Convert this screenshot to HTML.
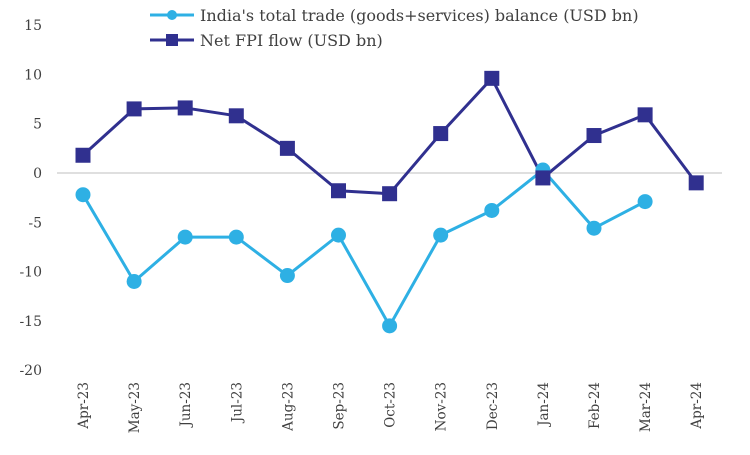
<!DOCTYPE html>
<html><head><meta charset="utf-8">
<style>
body{margin:0;background:#fff;}
svg{font-family:"DejaVu Serif","Liberation Serif",serif;}
</style></head>
<body>
<svg id="chart" width="750" height="450">
<g id="yaxis"></g>
<g id="xaxis"></g>
<g id="series"></g>
<g>
  <g>
    <line x1="150" y1="15" x2="194" y2="15" stroke="#2EB0E4" stroke-width="3"/>
    <circle cx="172" cy="15" r="5" fill="#2EB0E4"/>
    <text x="200" y="21" font-size="16" fill="#404040">India's total trade (goods+services) balance (USD bn)</text>
  </g>
  <g>
    <line x1="150" y1="40" x2="194" y2="40" stroke="#30308F" stroke-width="3"/>
    <rect x="166" y="34" width="12" height="12" fill="#30308F"/>
    <text x="200" y="46" font-size="16" fill="#404040">Net FPI flow (USD bn)</text>
  </g>
</g>
</svg>
<script>
const categories=["Apr-23","May-23","Jun-23","Jul-23","Aug-23","Sep-23","Oct-23","Nov-23","Dec-23","Jan-24","Feb-24","Mar-24","Apr-24"];
const tradeBalance=[-2.2,-11,-6.5,-6.5,-10.4,-6.3,-15.5,-6.3,-3.8,0.3,-5.6,-2.9,null];
const fpiFlow=[1.8,6.5,6.6,5.8,2.5,-1.8,-2.1,4.0,9.6,-0.5,3.8,5.9,-1.0];
const yTicks=[15,10,5,0,-5,-10,-15,-20];
const NS="http://www.w3.org/2000/svg";
function y(v){return 173-v*9.86;}
function x(i){return 83+i*51.1;}
function mk(tag,attrs,parent){const e=document.createElementNS(NS,tag);for(const k in attrs)e.setAttribute(k,attrs[k]);parent.appendChild(e);return e;}
const ya=document.getElementById('yaxis'),xa=document.getElementById('xaxis'),s=document.getElementById('series');
yTicks.forEach(t=>{const e=mk('text',{x:42,y:y(t)+5,'text-anchor':'end','font-size':14,fill:'#404040'},ya);e.textContent=t;

});
const zl=mk('line',{x1:57,x2:722,y1:y(0),y2:y(0),stroke:'#BFBFBF','stroke-width':1},ya);


categories.forEach((c,i)=>{const e=mk('text',{transform:`translate(${x(i)+5},382) rotate(-90)`,'text-anchor':'end','font-size':13.5,fill:'#404040'},xa);e.textContent=c;

});
function line(data,color,name){let d='';data.forEach((v,i)=>{if(v==null)return;d+=(d?'L':'M')+x(i)+','+y(v);});
const p=mk('path',{d:d,fill:'none',stroke:color,'stroke-width':3,'stroke-linejoin':'round'},s);

}
line(tradeBalance,'#2EB0E4','trade-balance');
line(fpiFlow,'#30308F','fpi-flow');
tradeBalance.forEach((v,i)=>{if(v==null)return;const c=mk('circle',{cx:x(i),cy:y(v),r:7.5,fill:'#2EB0E4'},s);

});
fpiFlow.forEach((v,i)=>{const r=mk('rect',{x:x(i)-7.5,y:y(v)-7.5,width:15,height:15,fill:'#30308F'},s);

});
</script>
</body></html>
